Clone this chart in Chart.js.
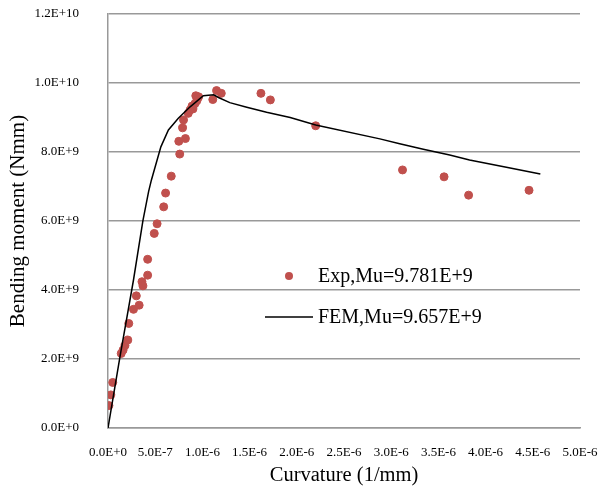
<!DOCTYPE html>
<html>
<head>
<meta charset="utf-8">
<script src="https://cdn.jsdelivr.net/npm/chart.js@4"></script>
<style>
  html, body { margin: 0; padding: 0; background: #fff; }
  #wrap { width: 600px; height: 486px; position: relative; }
</style>
</head>
<body>
<div id="wrap"><canvas id="c" width="600" height="486"></canvas></div>
<script>
// Experimental points: curvature (1/mm) and bending moment (Nmm)
const expCurvature = [0.01e-6, 0.03e-6, 0.05e-6, 0.14e-6, 0.16e-6, 0.18e-6, 0.21e-6, 0.22e-6, 0.27e-6, 0.33e-6,
  0.30e-6, 0.36e-6, 0.37e-6, 0.42e-6, 0.42e-6, 0.49e-6, 0.52e-6, 0.59e-6, 0.61e-6, 0.67e-6,
  0.76e-6, 0.75e-6, 0.82e-6, 0.79e-6, 0.80e-6, 0.85e-6, 0.87e-6, 0.90e-6, 0.89e-6, 0.92e-6,
  0.94e-6, 0.95e-6, 0.93e-6, 0.96e-6, 1.11e-6, 1.15e-6, 1.20e-6, 1.62e-6, 1.72e-6, 2.20e-6,
  3.12e-6, 3.56e-6, 3.82e-6, 4.46e-6];
const expMoment = [0.65e9, 0.96e9, 1.32e9, 2.16e9, 2.26e9, 2.39e9, 2.55e9, 3.03e9, 3.44e9, 3.56e9,
  3.83e9, 4.24e9, 4.12e9, 4.43e9, 4.89e9, 5.64e9, 5.92e9, 6.41e9, 6.81e9, 7.30e9,
  7.94e9, 8.31e9, 8.39e9, 8.70e9, 8.93e9, 9.12e9, 9.22e9, 9.25e9, 9.33e9, 9.40e9,
  9.48e9, 9.55e9, 9.63e9, 9.60e9, 9.52e9, 9.78e9, 9.70e9, 9.70e9, 9.51e9, 8.76e9,
  7.48e9, 7.28e9, 6.75e9, 6.89e9];
// FEM curve
const femCurvature = [0, 0.127e-6, 0.27e-6, 0.37e-6, 0.43e-6, 0.46e-6, 0.56e-6, 0.64e-6, 0.745e-6, 0.87e-6,
  1.01e-6, 1.12e-6, 1.17e-6, 1.29e-6, 1.47e-6, 1.68e-6, 1.93e-6, 2.20e-6, 2.88e-6, 3.09e-6,
  3.34e-6, 3.62e-6, 3.83e-6, 4.22e-6, 4.58e-6];
const femMoment = [0, 2.07e9, 4.29e9, 6.01e9, 6.85e9, 7.19e9, 8.15e9, 8.64e9, 8.98e9, 9.31e9,
  9.63e9, 9.657e9, 9.58e9, 9.43e9, 9.30e9, 9.15e9, 9.00e9, 8.78e9, 8.38e9, 8.24e9,
  8.08e9, 7.91e9, 7.77e9, 7.56e9, 7.36e9];
const seriesLabels = ['Exp,Mu=9.781E+9', 'FEM,Mu=9.657E+9'];
const axisTitles = { x: 'Curvature (1/mm)', y: 'Bending moment (Nmm)' };
const xRange = [0, 5e-6, 5e-7];
const yRange = [0, 1.2e10, 2e9];

const expData = expCurvature.map((x, i) => ({ x: x, y: expMoment[i] }));
const femData = femCurvature.map((x, i) => ({ x: x, y: femMoment[i] }));

const SERIF = "'Liberation Serif', 'Times New Roman', serif";
const RED = '#C0504D';
const GRID = '#999999';

function fmt(v) {
  return Number(v).toExponential(1).toUpperCase();
}
function noPad(scale) {
  scale.paddingTop = 0; scale.paddingBottom = 0;
  scale.paddingLeft = 0; scale.paddingRight = 0;
}

const legendPlugin = {
  id: 'innerLegend',
  afterDatasetsDraw(chart) {
    const ctx = chart.ctx;
    ctx.save();
    ctx.font = '20px ' + SERIF;
    ctx.textBaseline = 'middle';
    ctx.textAlign = 'left';
    // Exp marker
    ctx.beginPath();
    ctx.arc(289, 276, 4, 0, Math.PI * 2);
    ctx.fillStyle = RED;
    ctx.fill();
    ctx.fillStyle = '#000';
    ctx.fillText(chart.data.datasets[0].label, 318, 277);
    // FEM line
    ctx.beginPath();
    ctx.moveTo(265, 317);
    ctx.lineTo(313, 317);
    ctx.strokeStyle = '#000';
    ctx.lineWidth = 1.5;
    ctx.stroke();
    ctx.fillText(chart.data.datasets[1].label, 318, 318);
    ctx.restore();
  }
};

new Chart(document.getElementById('c'), {
  type: 'scatter',
  data: {
    datasets: [
      {
        label: seriesLabels[0],
        data: expData,
        pointRadius: 4,
        pointBorderWidth: 1,
        pointBackgroundColor: RED,
        pointBorderColor: RED,
        showLine: false,
        order: 1
      },
      {
        label: seriesLabels[1],
        data: femData,
        showLine: true,
        borderColor: '#000',
        borderWidth: 1.5,
        pointRadius: 0,
        tension: 0,
        order: 0
      }
    ]
  },
  options: {
    responsive: false,
    animation: false,
    devicePixelRatio: 1,
    layout: { padding: { top: 14, right: 20, left: 0, bottom: 0 } },
    plugins: {
      legend: { display: false },
      tooltip: { enabled: false }
    },
    scales: {
      x: {
        type: 'linear',
        min: xRange[0], max: xRange[1],
        afterFit(scale) { scale.height = 58; noPad(scale); },
        ticks: {
          stepSize: xRange[2],
          padding: 17,
          color: '#000',
          font: { family: SERIF, size: 13 },
          maxRotation: 0,
          autoSkip: false,
          callback: (v) => fmt(v)
        },
        grid: { color: 'rgba(0,0,0,0)', drawTicks: false },
        border: { display: true, color: GRID, width: 1.5 },
        title: {
          display: true,
          text: axisTitles.x,
          color: '#000',
          font: { family: SERIF, size: 20.5, lineHeight: 1 },
          padding: { top: 0, bottom: 0 }
        }
      },
      y: {
        type: 'linear',
        min: yRange[0], max: yRange[1],
        afterFit(scale) { scale.width = 108; noPad(scale); },
        ticks: {
          stepSize: yRange[2],
          padding: 29,
          color: '#000',
          font: { family: SERIF, size: 13 },
          callback: (v) => fmt(v)
        },
        grid: { color: GRID, lineWidth: 1.5, drawTicks: false },
        border: { display: true, color: GRID, width: 1.5 },
        title: {
          display: true,
          text: axisTitles.y,
          color: '#000',
          font: { family: SERIF, size: 21, lineHeight: 1.2 },
          padding: { top: 6, bottom: 0 }
        }
      }
    }
  },
  plugins: [legendPlugin]
});
</script>
</body>
</html>
